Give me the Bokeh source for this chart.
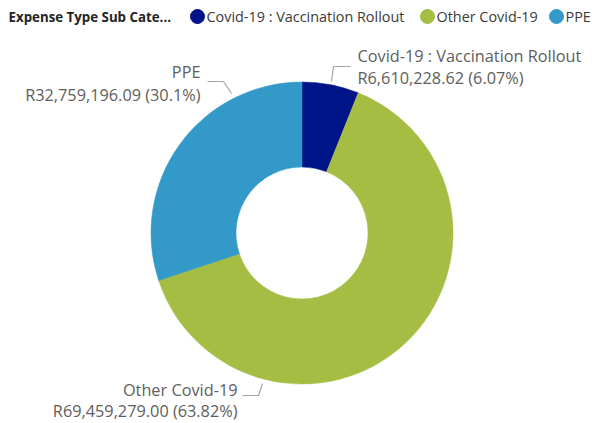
import math
from bokeh.plotting import figure
from bokeh.models import Range1d, ColumnDataSource
from bokeh.core.properties import value
from bokeh.embed import file_html
from bokeh.resources import INLINE

# ---- data ----
categories = ["Covid-19 : Vaccination Rollout", "Other Covid-19", "PPE"]
amounts = [6610228.62, 69459279.00, 32759196.09]
colors = ["#001489", "#A6BD44", "#3399C8"]
legend_title = "Expense Type Sub Cate..."

W, H = 592, 423


def sy(y):
    # screen y -> data y
    return H - y


p = figure(width=W, height=H, output_backend="svg", toolbar_location=None,
           x_range=Range1d(0, W), y_range=Range1d(0, H),
           min_border=0, outline_line_color=None)
p.axis.visible = False
p.grid.visible = False
p.background_fill_color = "white"
p.border_fill_color = "white"

total = sum(amounts)
fracs = [a / total for a in amounts]
starts, ends = [], []
c = 0.0
for f in fracs:
    starts.append(math.pi / 2 - c * 2 * math.pi)
    c += f
    ends.append(math.pi / 2 - c * 2 * math.pi)

cx, cy = 301.5, sy(232.5)
src = ColumnDataSource(dict(start=starts, end=ends, color=colors, cat=categories))
p.annular_wedge(x=cx, y=cy, inner_radius=66, outer_radius=151,
                start_angle="start", end_angle="end", direction="clock",
                color="color", line_color="color", line_width=0.5, source=src)


def pct(f):
    s = f"{f * 100:.2f}".rstrip("0").rstrip(".")
    return s + "%"


vals = [f"R{a:,.2f} ({pct(f)})" for a, f in zip(amounts, fracs)]

font = value("Open Sans")
lab_color = "#605E5C"
fs = "16.3px"

# label placement (screen coords): name line, value line, anchor
label_pos = [
    (357, 55, 77, "left"),
    (237, 389, 410, "right"),
    (200, 71, 94, "right"),
]
for (x, y1, y2, al), name, v in zip(label_pos, categories, vals):
    p.text(x=[x, x], y=[sy(y1), sy(y2)], text=[name, v], text_align=al,
           text_baseline="middle", text_font=font, text_font_size=fs,
           text_color=lab_color)

leaders = [
    ([331, 333, 350], [81, 66, 66]),
    ([242, 258, 262], [395, 395, 383]),
    ([207, 223, 231], [81, 81, 93]),
]
for xs, ys in leaders:
    p.line(xs, [sy(v) for v in ys], line_color="#A6A6A6", line_width=1.2)

# legend
ly = sy(16)
p.text(x=[8], y=[ly], text=[legend_title], text_font=font,
       text_font_style="bold", text_font_size="13.3px", text_color="#252423",
       text_baseline="middle")
leg_x = [197, 427, 556]
p.scatter(x=leg_x, y=[ly] * 3, size=14, color=colors, marker="circle")
p.text(x=[x + 9 for x in leg_x], y=[ly] * 3, text=categories,
       text_font=font, text_font_size="14.4px", text_color="#3B3A39",
       text_baseline="middle")

open("out.html", "w").write(file_html(p, INLINE))
